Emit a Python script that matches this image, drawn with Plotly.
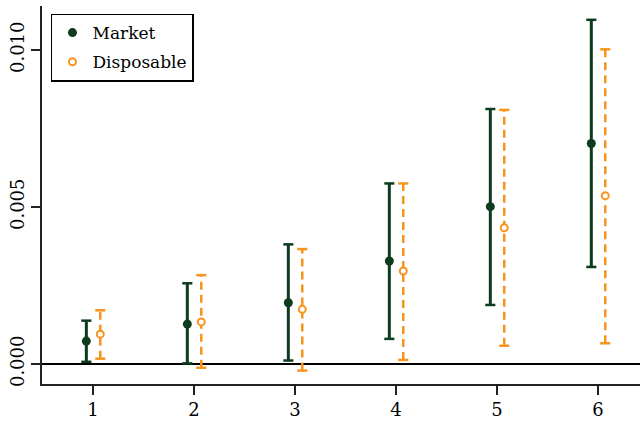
import plotly.graph_objects as go

groups = [1, 2, 3, 4, 5, 6]
market_est = [0.00073, 0.00127, 0.00195, 0.00328, 0.00501, 0.00702]
market_lo = [0.00007, 0.00002, 0.00011, 0.00080, 0.00188, 0.00309]
market_hi = [0.00138, 0.00257, 0.00381, 0.00575, 0.00812, 0.01096]
disp_est = [0.00095, 0.00134, 0.00174, 0.00296, 0.00434, 0.00536]
disp_lo = [0.00017, -0.00012, -0.00021, 0.00013, 0.00058, 0.00066]
disp_hi = [0.00171, 0.00283, 0.00366, 0.00575, 0.00809, 0.01002]
ytick_vals = [0.0, 0.005, 0.010]
ytick_text = ["0.000", "0.005", "0.010"]

GREEN = "#0d3b1e"
ORANGE = "#f7941d"
OFF_M, OFF_D = -0.066, 0.072
CAP = 0.05
FONT = "DejaVu Serif"


def segs(xs, lo, hi):
    X, Y = [], []
    for x, a, b in zip(xs, lo, hi):
        X += [x, x, None]
        Y += [a, b, None]
    return X, Y


def caps(xs, lo, hi):
    X, Y = [], []
    for x, a, b in zip(xs, lo, hi):
        for v in (a, b):
            X += [x - CAP, x + CAP, None]
            Y += [v, v, None]
    return X, Y


xm = [g + OFF_M for g in groups]
xd = [g + OFF_D for g in groups]

fig = go.Figure()
X, Y = segs(xm, market_lo, market_hi)
fig.add_trace(go.Scatter(x=X, y=Y, mode="lines", line=dict(color=GREEN, width=3), showlegend=False, hoverinfo="skip"))
X, Y = caps(xm, market_lo, market_hi)
fig.add_trace(go.Scatter(x=X, y=Y, mode="lines", line=dict(color=GREEN, width=2.5), showlegend=False, hoverinfo="skip"))
X, Y = segs(xd, disp_lo, disp_hi)
fig.add_trace(go.Scatter(x=X, y=Y, mode="lines", line=dict(color=ORANGE, width=2.5, dash="8px,5px"), showlegend=False, hoverinfo="skip"))
X, Y = caps(xd, disp_lo, disp_hi)
fig.add_trace(go.Scatter(x=X, y=Y, mode="lines", line=dict(color=ORANGE, width=2.5), showlegend=False, hoverinfo="skip"))

fig.add_trace(go.Scatter(x=xm, y=market_est, mode="markers", name="Market", legendgroup="m",
                         marker=dict(color=GREEN, size=9, line=dict(width=0))))
fig.add_trace(go.Scatter(x=xd, y=disp_est, mode="markers", name="Disposable", legendgroup="d",
                         marker=dict(color="white", size=7, line=dict(color=ORANGE, width=2))))

fig.add_shape(type="line", xref="paper", yref="y", x0=0, x1=1, y0=0, y1=0,
              line=dict(color="black", width=2), layer="below")

fig.update_layout(
    width=640, height=422,
    margin=dict(l=42, r=0, t=6, b=38),
    paper_bgcolor="white", plot_bgcolor="white",
    font=dict(family=FONT, size=18, color="black"),
    showlegend=True,
    legend=dict(x=0.015, y=0.98, xanchor="left", yanchor="top",
                bordercolor="black", borderwidth=1.5, bgcolor="white",
                font=dict(family=FONT, size=17), tracegroupgap=4,
                itemwidth=30),
    xaxis=dict(range=[0.495, 6.416], tickvals=groups, ticktext=[str(g) for g in groups],
               showgrid=False, zeroline=False, showline=True, linecolor="#222", linewidth=1.5,
               ticks="outside", ticklen=9, tickwidth=1.5, tickcolor="#222",
               tickfont=dict(family=FONT, size=18)),
    yaxis=dict(range=[-0.000637, 0.0114], tickvals=ytick_vals, ticktext=ytick_text,
               showgrid=False, zeroline=False, showline=True, linecolor="#222", linewidth=1.5,
               ticks="outside", ticklen=9, tickwidth=1.5, tickcolor="#222",
               tickangle=-90, tickfont=dict(family=FONT, size=18)),
)

fig.write_html("out.html")
